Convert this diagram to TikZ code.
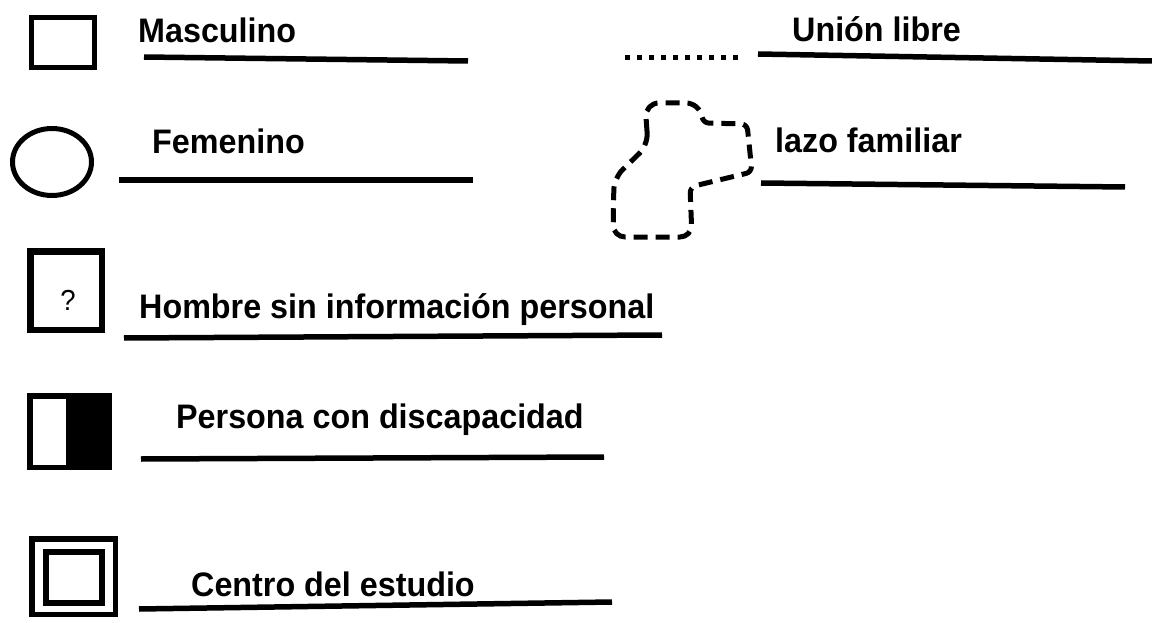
\documentclass[tikz,border=0pt]{standalone}
\usepackage{fontspec}
\setmainfont{Liberation Sans}[FakeStretch=0.95]
\usepackage{tikz}
\def\malebox{(31.5,17.5) rectangle (94.5,67.5)}
\def\femcircle{(52,162) ellipse (39.5 and 33.5)}
\def\unknownbox{(30.25,251.25) rectangle (101.75,329.75)}
\def\outerbox{(31.75,538.75) rectangle (115.25,614.25)}
\def\innerbox{(46,552) rectangle (102,603)}
\tikzset{
  lbl/.style={anchor=base west, inner sep=0pt, font=\fontsize{34}{40}\selectfont\bfseries},
  uline/.style={line width=5.5pt},
  shp/.style={line width=5pt}
}

\begin{document}
\begin{tikzpicture}[x=1pt,y=-1pt]
\useasboundingbox (0,0) rectangle (1152,623);
% left column
\draw[shp] \malebox;
\node[lbl] (masc) at (138,43) {Masculino};
\draw[uline] (144,57) -- (468,61);
\draw[shp] \femcircle;
\node[lbl] (fem) at (152,154) {Femenino};
\draw[uline] (119,180) -- (473,180);
\draw[line width=6.5pt] \unknownbox;
\node[inner sep=0pt, font=\fontsize{29}{30}\selectfont] (q) at (68,300) {?};
\node[lbl] (hombre) at (139,318) {Hombre sin información personal};
\draw[uline] (124,338) -- (662,335);
\fill (27,393) rectangle (112,470);
\fill[white] (32.5,398.5) rectangle (66,464.5);
\node[lbl] (persona) at (176,428) {Persona con discapacidad};
\draw[uline] (141,459) -- (604,457);
\draw[line width=5.5pt] \outerbox;
\draw[line width=6pt] \innerbox;
\node[lbl] (centro) at (191,596) {Centro del estudio};
\draw[uline] (139,609) -- (612,602);
% right column
\draw[line width=5pt, dash pattern=on 5pt off 7pt] (625,58) -- (738,58);
\node[lbl] (union) at (792,42) {Unión libre};
\draw[uline] (758,54) -- (1152,61);
\draw[line width=5pt, dash pattern=on 14pt off 8pt, line join=round]
  (648,145) [rounded corners=14pt] -- (645,103) -- (700,103)
  [rounded corners=6pt] -- (703,123) -- (747,124) -- (752,172) -- (690,187)
  [rounded corners=12pt] -- (692,237) -- (613,237) -- (614,178) -- cycle;
\node[lbl] (lazo) at (775,153) {lazo familiar};
\draw[uline] (761,183) -- (1125,187);
\end{tikzpicture}
\end{document}
